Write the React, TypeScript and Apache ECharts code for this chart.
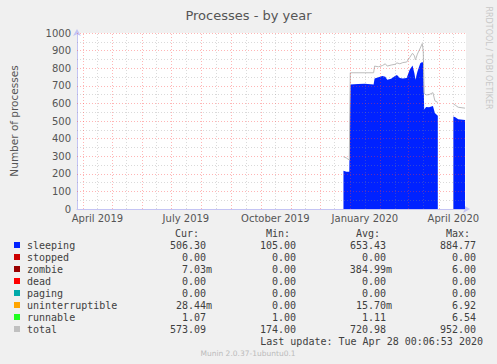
import React, { useEffect, useRef } from "react";
import * as echarts from "echarts";

const dates = [
  "2019-12-25", "2019-12-28", "2019-12-31", "2020-01-01", "2020-01-09", "2020-01-16", "2020-01-25", "2020-01-26",
  "2020-01-30", "2020-02-03", "2020-02-06", "2020-02-08", "2020-02-12", "2020-02-16", "2020-02-18", "2020-02-21",
  "2020-02-24", "2020-02-28", "2020-03-02", "2020-03-05", "2020-03-07", "2020-03-08", "2020-03-10", "2020-03-13",
  "2020-03-15", "2020-03-16", "2020-03-17", "2020-03-19", "2020-03-22", "2020-03-26", "2020-03-28", "2020-03-31",
  "2020-04-08", "2020-04-16", "2020-04-18", "2020-04-21", "2020-04-28",
];
const sleeping = [
  217, 212, 212, 708, 710, 711, 708, 742, 748, 756, 752, 735, 740, 755, 762, 745, 742, 745, 790, 815, 770, 735, 780,
  828, 835, 830, 565, 580, 578, 585, 545, 530, null, 525, 522, 510, 506,
];
const stopped = [
  0, 0, 0, 0, 0, 0, 0, 0, 0, 0, 0, 0, 0, 0, 0, 0, 0, 0, 0, 0, 0, 0, 0, 0, 0, 0, 0, 0, 0, 0, 0, 0, null, 0, 0, 0, 0,
];
const zombie = [
  0, 0, 0, 0, 0, 0, 0, 0, 0, 6, 0, 0, 0, 0, 0, 0, 0, 0, 0, 0, 0, 0, 0, 0, 0, 0, 0, 0, 0, 0, 0, 2, null, 0, 0, 0, 0,
];
const dead = [
  0, 0, 0, 0, 0, 0, 0, 0, 0, 0, 0, 0, 0, 0, 0, 0, 0, 0, 0, 0, 0, 0, 0, 0, 0, 0, 0, 0, 0, 0, 0, 0, null, 0, 0, 0, 0,
];
const paging = [
  0, 0, 0, 0, 0, 0, 0, 0, 0, 0, 0, 0, 0, 0, 0, 0, 0, 0, 0, 0, 0, 0, 0, 0, 0, 0, 0, 0, 0, 0, 0, 0, null, 0, 0, 0, 0,
];
const uninterruptible = [
  0, 0, 0, 0, 0, 0, 0, 0, 0, 0, 0, 0, 0, 0, 0, 0, 0, 0, 0, 0, 0, 6, 0, 0, 0, 0, 0, 0, 0, 0, 0, 0, null, 0, 0, 0, 0,
];
const runnable = [
  6, 3, 3, 6, 5, 4, 3, 3, 3, 4, 3, 3, 5, 6, 4, 3, 3, 3, 4, 5, 3, 3, 4, 5, 6, 4, 3, 6, 6, 3, 2, 2, null, 6, 5, 4, 2,
];
const total = [
  297, 290, 278, 774, 774, 774, 774, 812, 808, 815, 825, 812, 818, 822, 830, 825, 832, 835, 860, 885, 870, 847, 880,
  915, 940, 900, 657, 648, 650, 661, 615, 605, null, 597, 590, 578, 573,
];

const majorMonths = [
  "2019-04-01", "2019-05-01", "2019-06-01", "2019-07-01", "2019-08-01", "2019-09-01", "2019-10-01",
  "2019-11-01", "2019-12-01", "2020-01-01", "2020-02-01", "2020-03-01", "2020-04-01",
];
const minorMonths = [
  "2019-04-16", "2019-05-16", "2019-06-16", "2019-07-16", "2019-08-16", "2019-09-16", "2019-10-16",
  "2019-11-16", "2019-12-16", "2020-01-16", "2020-02-16", "2020-03-16", "2020-04-16",
];
const labelDates = ["2019-04-16", "2019-07-16", "2019-10-16", "2020-01-16", "2020-04-16"];
const labelTexts = ["April 2019", "July 2019", "October 2019", "January 2020", "April 2020"];
const yMajor = [100, 200, 300, 400, 500, 600, 700, 800, 900, 1000];
const yMinor = [50, 150, 250, 350, 450, 550, 650, 750, 850, 950];

const legendNames = ["sleeping", "stopped", "zombie", "dead", "paging", "uninterruptible", "runnable", "total"];
const legendColors = ["#0022ff", "#cc0000", "#990000", "#ff0000", "#00aaaa", "#ffa500", "#22ff22", "#c0c0c0"];
const curVals = ["506.30", "0.00", "7.03m", "0.00", "0.00", "28.44m", "1.07", "573.09"];
const minVals = ["105.00", "0.00", "0.00", "0.00", "0.00", "0.00", "1.00", "174.00"];
const avgVals = ["653.43", "0.00", "384.99m", "0.00", "0.00", "15.70m", "1.11", "720.98"];
const maxVals = ["884.77", "0.00", "6.00", "0.00", "0.00", "6.92", "6.54", "952.00"];

const DAY = 86400000;
const toTs = (s: string) => new Date(s + "T00:00:00Z").getTime();
const xMin = Date.UTC(2019, 2, 26);
const xMax = xMin + 400 * DAY;

export default function App() {
  const ref = useRef<HTMLDivElement>(null);
  useEffect(() => {
    if (!ref.current) return;
    const chart = echarts.init(ref.current, null, { renderer: "svg" });
    const ts = dates.map(toTs);
    const mk = (arr: (number | null)[]) => ts.map((t, i) => [t, arr[i]]);
    const stackDefs: [string, (number | null)[], string][] = [
      ["sleeping", sleeping, legendColors[0]],
      ["stopped", stopped, legendColors[1]],
      ["zombie", zombie, legendColors[2]],
      ["dead", dead, legendColors[3]],
      ["paging", paging, legendColors[4]],
      ["uninterruptible", uninterruptible, legendColors[5]],
      ["runnable", runnable, legendColors[6]],
    ];
    const red = "rgba(255,60,60,0.38)";
    const gray = "rgba(140,140,140,0.32)";
    const gridLines: any[] = [];
    minorMonths.forEach((d) => gridLines.push({ xAxis: toTs(d), lineStyle: { color: gray, type: [1, 2], width: 1 } }));
    yMinor.forEach((v) => gridLines.push({ yAxis: v, lineStyle: { color: gray, type: [1, 2], width: 1 } }));
    majorMonths.forEach((d) => gridLines.push({ xAxis: toTs(d), lineStyle: { color: red, type: [1, 2], width: 1 } }));
    yMajor.forEach((v) => gridLines.push({ yAxis: v, lineStyle: { color: red, type: [1, 2], width: 1 } }));

    const labelTs = labelDates.map(toTs);
    const font = "DejaVu Sans";
    const mono = "DejaVu Sans Mono";
    const txtColor = "#404040";
    const graphics: any[] = [];
    const rowY = (i: number) => 245 + i * 12;
    const headers: [string, number][] = [["Cur:", 199], ["Min:", 290], ["Avg:", 380], ["Max:", 470]];
    headers.forEach(([t, x]) =>
      graphics.push({ type: "text", x, y: 233, style: { text: t, fill: txtColor, font: `10px "${mono}"`, align: "right", verticalAlign: "middle" } })
    );
    const colEnds = [206, 296, 386, 476];
    legendNames.forEach((n, i) => {
      const y = rowY(i);
      graphics.push({ type: "rect", shape: { x: 14, y: y - 3, width: 6, height: 6 }, style: { fill: legendColors[i] } });
      graphics.push({ type: "text", x: 27, y, style: { text: n, fill: txtColor, font: `10px "${mono}"`, verticalAlign: "middle" } });
      [curVals, minVals, avgVals, maxVals].forEach((col, c) => {
        const s = col[i];
        const x = s.endsWith("m") ? colEnds[c] + 6 : colEnds[c];
        graphics.push({ type: "text", x, y, style: { text: s, fill: txtColor, font: `10px "${mono}"`, align: "right", verticalAlign: "middle" } });
      });
    });
    graphics.push({ type: "text", x: 483, y: 341, style: { text: "Last update: Tue Apr 28 00:06:53 2020", fill: txtColor, font: `10px "${mono}"`, align: "right", verticalAlign: "middle" } });
    graphics.push({ type: "text", x: 248, y: 353, style: { text: "Munin 2.0.37-1ubuntu0.1", fill: "#bbbbbb", font: `7.5px "${font}"`, align: "center", verticalAlign: "middle" } });
    graphics.push({ type: "text", x: 488, y: 58, rotation: -Math.PI / 2, style: { text: "RRDTOOL / TOBI OETIKER", fill: "#c8c8c8", font: `8px "${font}"`, align: "center", verticalAlign: "middle" } });

    const series: any[] = stackDefs.map(([name, arr, color]) => ({
      name,
      type: "line",
      stack: "procs",
      data: mk(arr),
      symbol: "none",
      showSymbol: false,
      lineStyle: name === "runnable" ? { width: 1, color } : { width: 0 },
      itemStyle: { color },
      areaStyle: { color, opacity: 1 },
      z: 2,
    }));
    series.push({
      name: "total",
      type: "line",
      data: mk(total),
      symbol: "none",
      showSymbol: false,
      lineStyle: { color: "#bcbcbc", width: 1 },
      z: 3,
    });
    series.push({
      name: "grid",
      type: "line",
      data: [],
      z: 4,
      markLine: { silent: true, symbol: ["none", "none"], label: { show: false }, data: gridLines, animation: false },
    });

    const axisColor = "#c4c4f4";
    chart.setOption({
      animation: false,
      backgroundColor: "#f0f0f0",
      title: {
        text: "Processes - by year",
        left: "center",
        top: 4,
        textStyle: { fontSize: 13, color: "#555", fontWeight: "normal", fontFamily: font },
      },
      grid: { left: 66, top: 33, width: 400, height: 176, show: true, backgroundColor: "#ffffff", borderWidth: 0 },
      xAxis: {
        type: "value",
        min: xMin,
        max: xMax,
        splitLine: { show: false },
        axisTick: { show: false },
        axisLine: { show: true, lineStyle: { color: axisColor, width: 1 }, symbol: ["none", "arrow"], symbolSize: [6, 7], symbolOffset: [0, 4] },
        axisLabel: {
          customValues: labelTs,
          formatter: (v: number) => {
            const i = labelTs.indexOf(v);
            return i >= 0 ? labelTexts[i] : "";
          },
          fontSize: 10,
          color: "#555",
          fontFamily: font,
          margin: 4,
        },
      },
      yAxis: {
        type: "value",
        min: 0,
        max: 1000,
        interval: 100,
        splitLine: { show: false },
        axisTick: { show: false },
        axisLine: { show: true, lineStyle: { color: axisColor, width: 1 }, symbol: ["none", "arrow"], symbolSize: [6, 7], symbolOffset: [0, 4] },
        axisLabel: { fontSize: 10, color: "#555", fontFamily: font, margin: 6, formatter: (v: number) => String(v) },
        name: "Number of processes",
        nameLocation: "middle",
        nameGap: 58,
        nameRotate: 90,
        nameTextStyle: { fontSize: 10.5, color: "#555", fontFamily: font },
      },
      series,
      graphic: graphics,
    });
    return () => chart.dispose();
  }, []);
  return <div ref={ref} style={{ position: "absolute", left: 0, top: 0, width: 497, height: 364 }} />;
}
